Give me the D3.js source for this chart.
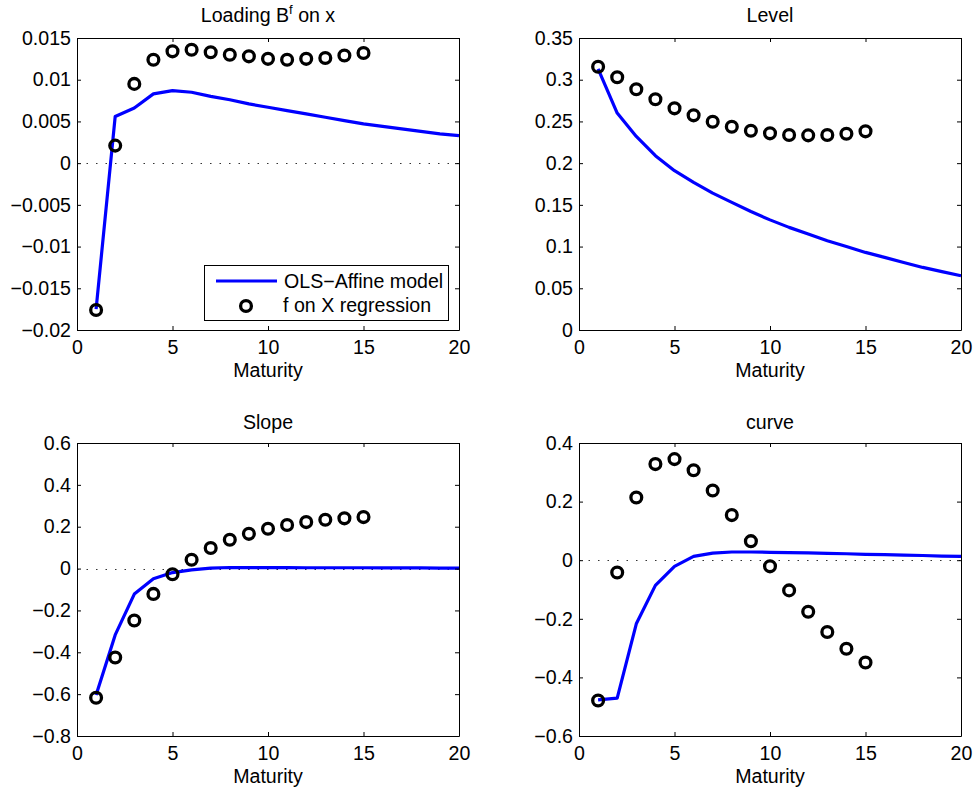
<!DOCTYPE html>
<html>
<head>
<meta charset="utf-8">
<script src="https://cdn.jsdelivr.net/npm/d3@7"></script>
<style>
  html, body { margin: 0; padding: 0; background: #fff; }
  svg { display: block; font-family: "Liberation Sans", Arial, Helvetica, sans-serif; }
</style>
</head>
<body>
<svg id="chart" width="974" height="791"></svg>
<script>
// Maturities (years)
const maturityModel = d3.range(1, 21);      // 1..20
const maturityReg = d3.range(1, 16);        // 1..15
const xTicks = [0, 5, 10, 15, 20];

// Loading B^f on x
const loadModel = [-0.0175, 0.0056, 0.0066, 0.0083, 0.0087, 0.0085, 0.0080, 0.0076, 0.0071, 0.0067,
                   0.0063, 0.0059, 0.0055, 0.0051, 0.0047, 0.0044, 0.0041, 0.0038, 0.0035, 0.0033];
const loadReg = [-0.0176, 0.0021, 0.0095, 0.0124, 0.0134, 0.0136, 0.0133, 0.0130, 0.0128, 0.0125,
                 0.0124, 0.0125, 0.0126, 0.0129, 0.0132];
const loadTicks = [-0.02, -0.015, -0.01, -0.005, 0, 0.005, 0.01, 0.015];

// Level
const levelModel = [0.313, 0.260, 0.232, 0.209, 0.191, 0.177, 0.164, 0.153, 0.142, 0.132,
                    0.123, 0.115, 0.107, 0.100, 0.093, 0.087, 0.081, 0.075, 0.070, 0.065];
const levelReg = [0.3156, 0.3029, 0.2885, 0.2765, 0.2657, 0.2573, 0.2497, 0.2437, 0.2389, 0.2357,
                  0.2337, 0.2333, 0.2337, 0.2353, 0.2381];
const levelTicks = [0, 0.05, 0.1, 0.15, 0.2, 0.25, 0.3, 0.35];

// Slope
const slopeModel = [-0.604, -0.317, -0.122, -0.049, -0.019, -0.006, 0.002, 0.005, 0.005, 0.005,
                    0.005, 0.004, 0.004, 0.004, 0.004, 0.003, 0.003, 0.003, 0.002, 0.002];
const slopeReg = [-0.617, -0.425, -0.248, -0.121, -0.027, 0.042, 0.098, 0.138, 0.166, 0.190,
                  0.208, 0.222, 0.233, 0.240, 0.246];
const slopeTicks = [-0.8, -0.6, -0.4, -0.2, 0, 0.2, 0.4, 0.6];

// curve
const curveModel = [-0.477, -0.471, -0.217, -0.086, -0.021, 0.013, 0.024, 0.028, 0.028, 0.027,
                    0.026, 0.025, 0.023, 0.022, 0.020, 0.019, 0.017, 0.016, 0.014, 0.013];
const curveReg = [-0.479, -0.042, 0.214, 0.328, 0.345, 0.307, 0.238, 0.154, 0.065, -0.021,
                  -0.103, -0.176, -0.245, -0.302, -0.349];
const curveTicks = [-0.6, -0.4, -0.2, 0, 0.2, 0.4];

const panels = [
  { title: "Loading B", sup: "f", titleRest: " on x", model: loadModel, reg: loadReg, yTicks: loadTicks,
    box: { left: 77, right: 459, top: 38, bottom: 330 }, titleY: 22, legend: true },
  { title: "Level", model: levelModel, reg: levelReg, yTicks: levelTicks,
    box: { left: 579, right: 961, top: 38, bottom: 330 }, titleY: 22 },
  { title: "Slope", model: slopeModel, reg: slopeReg, yTicks: slopeTicks,
    box: { left: 77, right: 459, top: 443, bottom: 736 }, titleY: 429 },
  { title: "curve", model: curveModel, reg: curveReg, yTicks: curveTicks,
    box: { left: 579, right: 961, top: 443, bottom: 736 }, titleY: 429 }
];

const svg = d3.select("#chart");
const FONT = 19.6;
const fmt = d3.format("~g");
const tickLen = 4;

panels.forEach(p => {
  const b = p.box;
  const x = d3.scaleLinear().domain([0, 20]).range([b.left, b.right]);
  const y = d3.scaleLinear().domain(d3.extent(p.yTicks)).range([b.bottom, b.top]);
  const g = svg.append("g");

  // zero reference line (dotted)
  g.append("line")
    .attr("x1", x(0)).attr("x2", x(20))
    .attr("y1", Math.round(y(0)) + 0.5).attr("y2", Math.round(y(0)) + 0.5)
    .attr("stroke", "#333").attr("stroke-width", 1)
    .attr("stroke-dasharray", "1.5,8");

  // model curve
  g.append("path")
    .datum(p.model.map((v, i) => [maturityModel[i], v]))
    .attr("fill", "none").attr("stroke", "#0000ff").attr("stroke-width", 3.2)
    .attr("stroke-linejoin", "round")
    .attr("d", d3.line().x(d => x(d[0])).y(d => y(d[1])));

  // regression coefficients
  g.selectAll("circle.reg")
    .data(p.reg.map((v, i) => [maturityReg[i], v]))
    .join("circle")
    .attr("class", "reg")
    .attr("cx", d => x(d[0])).attr("cy", d => y(d[1]))
    .attr("r", 5.4)
    .attr("fill", "none").attr("stroke", "#000").attr("stroke-width", 3.3);

  // axes: bottom/left with labels, top/right mirror ticks only
  const axB = g.append("g").attr("transform", `translate(0,${b.bottom})`)
    .call(d3.axisBottom(x).tickValues(xTicks).tickSizeInner(-tickLen).tickSizeOuter(0).tickPadding(10).tickFormat(fmt));
  const axT = g.append("g").attr("transform", `translate(0,${b.top})`)
    .call(d3.axisTop(x).tickValues(xTicks).tickSizeInner(-tickLen).tickSizeOuter(0).tickFormat(""));
  const axL = g.append("g").attr("transform", `translate(${b.left},0)`)
    .call(d3.axisLeft(y).tickValues(p.yTicks).tickSizeInner(-tickLen).tickSizeOuter(0).tickPadding(6).tickFormat(fmt));
  const axR = g.append("g").attr("transform", `translate(${b.right},0)`)
    .call(d3.axisRight(y).tickValues(p.yTicks).tickSizeInner(-tickLen).tickSizeOuter(0).tickFormat(""));

  [axB, axT, axL, axR].forEach(a => {
    a.select(".domain").attr("stroke", "#000").attr("stroke-width", 1);
    a.selectAll(".tick line").attr("stroke", "#000");
    a.selectAll("text").attr("fill", "#000").style("font-size", FONT + "px")
      .style("font-family", "'Liberation Sans', Arial, sans-serif");
  });
  axB.selectAll("text").attr("dy", "0.71em");

  // x-axis label
  g.append("text")
    .attr("x", (b.left + b.right) / 2).attr("y", b.bottom + 47)
    .attr("text-anchor", "middle").style("font-size", FONT + "px")
    .text("Maturity");

  // title
  const t = g.append("text")
    .attr("x", (b.left + b.right) / 2).attr("y", p.titleY)
    .attr("text-anchor", "middle").style("font-size", FONT + "px");
  t.append("tspan").text(p.title);
  if (p.sup) {
    t.append("tspan").attr("dy", -8).style("font-size", "13px").text(p.sup);
    t.append("tspan").attr("dy", 8).text(p.titleRest);
  }

  // legend
  if (p.legend) {
    const lg = g.append("g");
    lg.append("rect")
      .attr("x", 204.5).attr("y", 265.5).attr("width", 244).attr("height", 55)
      .attr("fill", "#fff").attr("stroke", "#000").attr("stroke-width", 1);
    lg.append("line")
      .attr("x1", 216).attr("x2", 277).attr("y1", 281).attr("y2", 281)
      .attr("stroke", "#0000ff").attr("stroke-width", 3.2);
    lg.append("text").attr("x", 284).attr("y", 288).style("font-size", FONT + "px")
      .text("OLS\u2212Affine model");
    lg.append("circle").attr("cx", 246).attr("cy", 306).attr("r", 5.4)
      .attr("fill", "none").attr("stroke", "#000").attr("stroke-width", 3.3);
    lg.append("text").attr("x", 283).attr("y", 312).style("font-size", FONT + "px")
      .text("f on X regression");
  }
});
</script>
</body>
</html>
